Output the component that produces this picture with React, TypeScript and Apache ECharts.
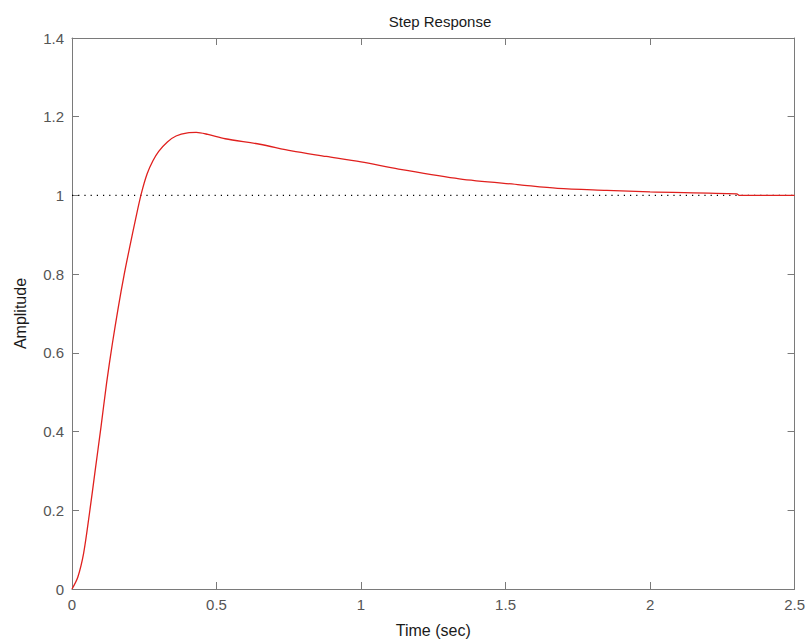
import React, { useEffect, useRef } from "react";
import * as echarts from "echarts";

const timeValues = [0, 0.02, 0.04, 0.06, 0.08, 0.1, 0.12, 0.14, 0.16, 0.18, 0.2, 0.22, 0.24, 0.26, 0.28, 0.3, 0.33, 0.36, 0.4, 0.43, 0.47, 0.53, 0.65, 0.76, 0.88, 1.0, 1.13, 1.34, 1.55, 1.68, 1.85, 2.0, 2.3, 2.31, 2.5];
const amplitudeValues = [0, 0.03, 0.09, 0.19, 0.3, 0.41, 0.525, 0.625, 0.715, 0.797, 0.87, 0.94, 1.005, 1.055, 1.088, 1.112, 1.136, 1.151, 1.159, 1.16, 1.155, 1.144, 1.13, 1.113, 1.099, 1.085, 1.067, 1.042, 1.027, 1.018, 1.013, 1.009, 1.004, 1.0, 1.0];
const steadyTime = [0, 2.5];
const steadyValue = [1, 1];

const FONT = "'Liberation Sans', Arial, sans-serif";

export default function App() {
  const ref = useRef<HTMLDivElement>(null);
  useEffect(() => {
    if (!ref.current) return;
    const chart = echarts.init(ref.current, undefined, { renderer: "svg" });
    const axisCommon = {
      type: "value" as const,
      axisLine: { show: true, onZero: false, lineStyle: { color: "#7a7a7a", width: 1 } },
      axisTick: { show: true, inside: true, length: 7, lineStyle: { color: "#7a7a7a" } },
      splitLine: { show: false },
    };
    chart.setOption({
      animation: false,
      backgroundColor: "#ffffff",
      title: {
        text: "Step Response",
        left: 435,
        textAlign: "center",
        top: 9,
        textStyle: { fontFamily: FONT, fontSize: 15, fontWeight: "normal", color: "#1a1a1a" },
      },
      grid: { left: 72, top: 38, right: 10, bottom: 53 },
      xAxis: [
        {
          ...axisCommon,
          position: "bottom",
          min: 0,
          max: 2.5,
          interval: 0.5,
          name: "Time (sec)",
          nameLocation: "middle",
          nameGap: 33,
          nameTextStyle: { fontFamily: FONT, fontSize: 16, color: "#1a1a1a" },
          axisLabel: { fontFamily: FONT, fontSize: 15, color: "#555", margin: 8 },
        },
        {
          ...axisCommon,
          position: "top",
          min: 0,
          max: 2.5,
          interval: 0.5,
          axisLabel: { show: false },
        },
      ],
      yAxis: [
        {
          ...axisCommon,
          position: "left",
          min: 0,
          max: 1.4,
          interval: 0.2,
          name: "Amplitude",
          nameLocation: "middle",
          nameGap: 44,
          nameTextStyle: { fontFamily: FONT, fontSize: 16, color: "#1a1a1a" },
          axisLabel: { fontFamily: FONT, fontSize: 15, color: "#555", margin: 8 },
        },
        {
          ...axisCommon,
          position: "right",
          min: 0,
          max: 1.4,
          interval: 0.2,
          axisLabel: { show: false },
        },
      ],
      series: [
        {
          type: "line",
          data: steadyTime.map((t, i) => [t, steadyValue[i]]),
          showSymbol: false,
          lineStyle: { color: "#000000", width: 1.2, type: [1.2, 5] },
          z: 1,
        },
        {
          type: "line",
          data: timeValues.map((t, i) => [t, amplitudeValues[i]]),
          showSymbol: false,
          smooth: 0.3,
          lineStyle: { color: "#e0201e", width: 1.3 },
          z: 2,
        },
      ],
    });
    return () => chart.dispose();
  }, []);
  return <div ref={ref} style={{ width: 808, height: 643, position: "absolute", left: 0, top: 0 }} />;
}
